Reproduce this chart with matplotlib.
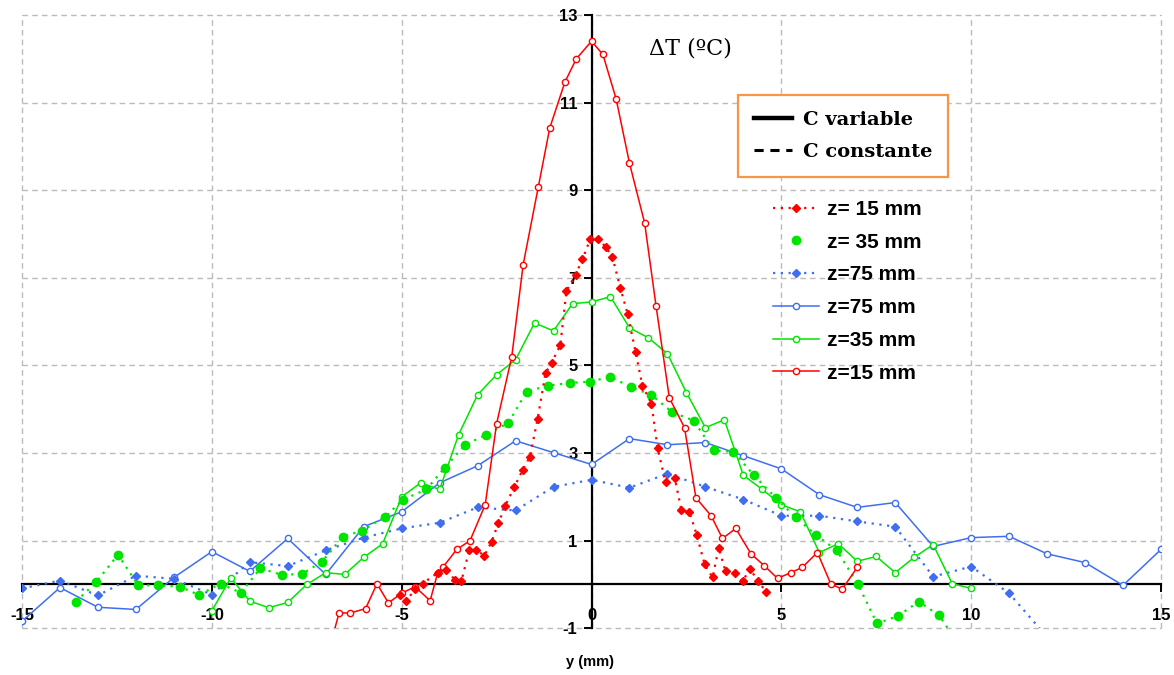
import matplotlib
matplotlib.use('Agg')
import matplotlib.pyplot as plt
from matplotlib.lines import Line2D

plt.rcParams['axes.unicode_minus'] = False

# ---------------- data ----------------
x_ticks = [-15, -10, -5, 0, 5, 10, 15]
y_ticks = [-1, 1, 3, 5, 7, 9, 11, 13]

# z=15 mm, C variable (solid red)
red_var_x = [-6.85, -6.65, -6.35, -5.95, -5.65, -5.35, -5.0, -4.65, -4.25, -4.05,
             -3.9, -3.55, -3.2, -2.8, -2.5, -2.1, -1.8, -1.4, -1.1, -0.7,
             -0.4, 0.0, 0.3, 0.65, 1.0, 1.4, 1.7, 2.05, 2.45, 2.75,
             3.15, 3.45, 3.8, 4.2, 4.55, 4.9, 5.25, 5.55, 5.95, 6.3,
             6.6, 7.0]
red_var_y = [-1.3, -0.65, -0.65, -0.55, 0.02, -0.42, -0.2, -0.05, -0.37, 0.27,
             0.41, 0.8, 1.0, 1.82, 3.67, 5.2, 7.3, 9.08, 10.42, 11.47,
             12.0, 12.4, 12.1, 11.08, 9.62, 8.25, 6.36, 4.26, 3.58, 1.98,
             1.57, 1.05, 1.28, 0.7, 0.43, 0.14, 0.27, 0.39, 0.73, 0.02,
             -0.11, 0.39]

# z=15 mm, C constante (dotted red, filled diamonds)
red_const_x = [-5.04, -4.88, -4.65, -4.45, -4.05, -3.83, -3.6, -3.43, -3.22, -3.03,
               -2.82, -2.63, -2.45, -2.27, -2.03, -1.81, -1.62, -1.42, -1.21, -1.05,
               -0.82, -0.66, -0.42, -0.24, -0.03, 0.18, 0.37, 0.55, 0.76, 0.95,
               1.16, 1.34, 1.58, 1.74, 1.95, 2.19, 2.37, 2.58, 2.77, 2.98,
               3.19, 3.35, 3.53, 3.77, 3.98, 4.17, 4.38, 4.59]
red_const_y = [-0.23, -0.38, -0.11, 0.02, 0.27, 0.34, 0.11, 0.07, 0.78, 0.78,
               0.66, 0.98, 1.41, 1.8, 2.23, 2.62, 2.92, 3.78, 4.83, 5.06,
               5.47, 6.7, 7.07, 7.42, 7.89, 7.89, 7.71, 7.48, 6.77, 6.18,
               5.31, 4.54, 4.13, 3.12, 2.33, 2.44, 1.69, 1.65, 1.14, 0.46,
               0.16, 0.84, 0.3, 0.27, 0.07, 0.36, 0.09, -0.16]

# z=35 mm, C variable (solid green)
green_var_x = [-10.0, -9.5, -9.0, -8.5, -8.0, -7.5, -7.0, -6.5, -6.0, -5.5,
               -5.0, -4.5, -4.0, -3.5, -3.0, -2.5, -2.0, -1.5, -1.0, -0.5,
               0.0, 0.5, 1.0, 1.5, 2.0, 2.5, 3.0, 3.5, 4.0, 4.5,
               5.0, 5.5, 6.0, 6.5, 7.0, 7.5, 8.0, 8.5, 9.0, 9.5, 10.0]
green_var_y = [-0.6, 0.15, -0.38, -0.53, -0.41, 0.0, 0.27, 0.23, 0.62, 0.93,
               2.0, 2.32, 2.17, 3.42, 4.33, 4.79, 5.13, 5.97, 5.79, 6.41,
               6.45, 6.57, 5.86, 5.63, 5.27, 4.38, 3.58, 3.76, 2.49, 2.17,
               1.82, 1.66, 0.73, 0.93, 0.53, 0.64, 0.27, 0.62, 0.91, 0.02, -0.09]

# z=35 mm, C constante (dotted green, filled circles)
green_const_x = [-13.58, -13.05, -12.47, -11.94, -11.42, -10.84, -10.34, -9.77, -9.24, -8.72,
                 -8.16, -7.62, -7.1, -6.55, -6.04, -5.43, -4.96, -4.35, -3.86, -3.33,
                 -2.77, -2.19, -1.71, -1.15, -0.56, -0.04, 0.5, 1.03, 1.58, 2.11,
                 2.69, 3.22, 3.74, 4.27, 4.85, 5.38, 5.9, 6.46, 7.01, 7.52,
                 8.07, 8.62, 9.15, 9.7]
green_const_y = [-0.39, 0.05, 0.68, -0.02, -0.02, -0.05, -0.24, 0.02, -0.19, 0.37,
                 0.22, 0.24, 0.52, 1.09, 1.23, 1.55, 1.94, 2.17, 2.67, 3.19,
                 3.42, 3.69, 4.4, 4.54, 4.6, 4.63, 4.74, 4.51, 4.33, 3.94,
                 3.74, 3.06, 3.03, 2.5, 1.98, 1.53, 1.14, 0.78, 0.02, -0.89,
                 -0.72, -0.39, -0.7, -1.4]

# z=75 mm, C variable (solid blue)
blue_var_x = [-15, -14, -13, -12, -11, -10, -9, -8, -7, -6, -5, -4, -3, -2, -1, 0,
              1, 2, 3, 4, 5, 6, 7, 8, 9, 10, 11, 12, 13, 14, 15]
blue_var_y = [-0.84, -0.07, -0.52, -0.57, 0.16, 0.75, 0.3, 1.05, 0.23, 1.32, 1.66,
              2.32, 2.71, 3.28, 3.01, 2.74, 3.33, 3.19, 3.24, 2.94, 2.64, 2.05,
              1.76, 1.87, 0.87, 1.07, 1.1, 0.7, 0.5, -0.02, 0.8]

# z=75 mm, C constante (dotted blue, filled diamonds)
blue_const_x = [-15, -14, -13, -12, -11, -10, -9, -8, -7, -6, -5, -4, -3, -2, -1, 0,
                1, 2, 3, 4, 5, 6, 7, 8, 9, 10, 11, 12]
blue_const_y = [-0.09, 0.09, -0.25, 0.2, 0.13, -0.23, 0.51, 0.42, 0.78, 1.07, 1.28,
                1.41, 1.76, 1.69, 2.23, 2.39, 2.21, 2.53, 2.23, 1.94, 1.57, 1.57,
                1.44, 1.32, 0.18, 0.41, -0.2, -1.2]

legend_labels = ['z= 15 mm', 'z= 35 mm', 'z=75 mm', 'z=75 mm', 'z=35 mm', 'z=15 mm']
style_labels = ['C variable', 'C constante']

# ---------------- style ----------------
RED = '#FF0000'
GREEN = '#00E400'
BLUE = '#3F6FF0'
DOT = (0, (1, 2.5))

fig = plt.figure(figsize=(11.74, 6.75), dpi=100)
ax = fig.add_axes([22 / 1174, 46.7 / 675, 1139 / 1174, 613.3 / 675])
ax.set_xlim(-15, 15)
ax.set_ylim(-1, 13)

ax.spines['left'].set_position(('data', 0))
ax.spines['bottom'].set_position(('data', 0))
ax.spines['top'].set_visible(False)
ax.spines['right'].set_visible(False)
for s in ('left', 'bottom'):
    ax.spines[s].set_linewidth(1.6)
    ax.spines[s].set_color('black')

ax.set_xticks(x_ticks)
ax.set_yticks(y_ticks)
ax.grid(True, linestyle=(0, (4, 3)), color='#BBBBBB', linewidth=1.0)
ax.set_axisbelow(True)
for gl in ax.get_xgridlines() + ax.get_ygridlines():
    gl.set_clip_on(False)

ax.tick_params(axis='x', direction='out', length=6, width=1.4, pad=11, labelsize=12)
ax.tick_params(axis='y', direction='out', length=6, width=1.4, pad=4, labelsize=12)
for lab in ax.get_xticklabels() + ax.get_yticklabels():
    lab.set_fontweight('bold')
    lab.set_family('Liberation Sans')

# ---------------- series ----------------
ax.plot(blue_var_x, blue_var_y, color=BLUE, lw=1.1, marker='o', ms=4.5,
        mfc='white', mec=BLUE, mew=1.0, zorder=3)
ax.plot(blue_const_x, blue_const_y, color=BLUE, ls=DOT, lw=1.6, marker='D', ms=4.5,
        mfc=BLUE, mec=BLUE, zorder=3)
ax.plot(green_var_x, green_var_y, color=GREEN, lw=1.1, marker='o', ms=4.5,
        mfc='white', mec=GREEN, mew=1.0, zorder=4)
ax.plot(green_const_x, green_const_y, color=GREEN, ls=DOT, lw=1.6, marker='o', ms=6,
        mfc=GREEN, mec=GREEN, zorder=4)
ax.plot(red_var_x, red_var_y, color=RED, lw=1.1, marker='o', ms=4.5,
        mfc='white', mec=RED, mew=1.0, zorder=5)
ax.plot(red_const_x, red_const_y, color=RED, ls=DOT, lw=1.6, marker='D', ms=4.5,
        mfc=RED, mec=RED, zorder=5)

# ---------------- labels ----------------
fig.text(690 / 1174, 1 - 49 / 675, 'ΔT (ºC)', ha='center', va='center',
         fontsize=16, family='DejaVu Serif')
fig.text(590 / 1174, 1 - 662 / 675, 'y (mm)', ha='center', va='center',
         fontsize=10.5, fontweight='bold', family='Liberation Sans')

# ---------------- legends ----------------
style_handles = [Line2D([], [], color='black', lw=3.2),
                 Line2D([], [], color='black', lw=2.2, ls=(0, (3, 2.2)))]
leg1 = fig.legend(style_handles, style_labels, loc='upper left',
                  bbox_to_anchor=(738 / 1174, 1 - 95 / 675), borderaxespad=0,
                  frameon=True, fancybox=False, edgecolor='#F79646', framealpha=1,
                  prop={'family': 'DejaVu Serif', 'weight': 'bold', 'size': 14},
                  handlelength=2.0, handletextpad=0.55, labelspacing=0.75,
                  borderpad=0.8)
leg1.get_frame().set_linewidth(1.6)

series_handles = [
    Line2D([], [], color=RED, ls=DOT, lw=1.6, marker='D', ms=4.5, mfc=RED, mec=RED),
    Line2D([], [], color=GREEN, ls='none', marker='o', ms=6, mfc=GREEN, mec=GREEN),
    Line2D([], [], color=BLUE, ls=DOT, lw=1.6, marker='D', ms=4.5, mfc=BLUE, mec=BLUE),
    Line2D([], [], color=BLUE, lw=1.1, marker='o', ms=4.5, mfc='white', mec=BLUE),
    Line2D([], [], color=GREEN, lw=1.1, marker='o', ms=4.5, mfc='white', mec=GREEN),
    Line2D([], [], color=RED, lw=1.1, marker='o', ms=4.5, mfc='white', mec=RED),
]
leg2 = fig.legend(series_handles, legend_labels, loc='upper left',
                  bbox_to_anchor=(773 / 1174, 1 - 200 / 675), borderaxespad=0,
                  frameon=False,
                  prop={'family': 'Liberation Sans', 'weight': 'bold', 'size': 15},
                  handlelength=2.2, handletextpad=0.4, labelspacing=0.66,
                  borderpad=0)

fig.savefig('out.png', dpi=100)
